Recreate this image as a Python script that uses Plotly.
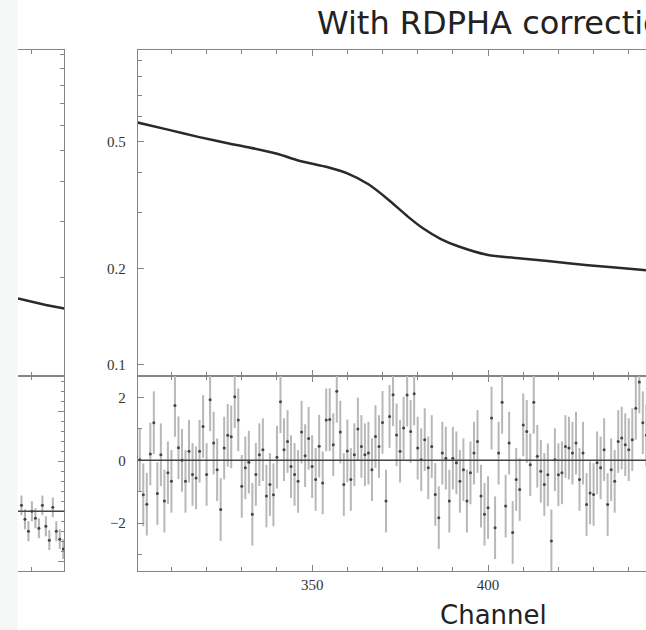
import plotly.graph_objects as go

W, H = 646, 630

# right panel: model curve knots (channel, counts)
model_ch = [300, 309, 317.6, 326, 331.8, 340.3, 346, 354.5, 360, 366, 371.6, 377.3,
            381.5, 386.6, 391.5, 400, 409.4, 417, 428.4, 442.6, 445]
model_val = [0.576, 0.546, 0.518, 0.495, 0.481, 0.458, 0.437, 0.416, 0.398, 0.368,
             0.330, 0.291, 0.2680, 0.2480, 0.2355, 0.2210, 0.2155, 0.2118, 0.2053,
             0.1991, 0.1981]

# right panel: residuals (sigma), one per channel 300..445
res_ch = list(range(300, 446))
res_val = [
    -1.97, 0.02, -1.10, -1.40, 0.20, 1.20, -1.06, 0.18, -1.30, -0.40,
    -0.67, 1.75, 0.40, 0.00, -0.67, 0.29, -0.45, -0.56, 0.29, 1.08,
    -0.45, 1.93, 0.55, -0.30, -1.57, 0.39, 0.80, 0.75, 2.03, 1.29,
    -0.83, -0.24, -0.06, -1.72, -0.45, 0.18, 0.34, -1.14, -0.77, -1.10,
    0.10, 1.87, 0.34, 0.60, -0.20, -0.45, -0.67, 0.90, 0.15, 0.70,
    -0.20, -0.61, 0.45, -0.72, 1.29, 1.30, 0.50, 2.20, 0.90, -0.77,
    0.30, -0.61, 0.18, 1.00, 0.44, 0.18, 0.23, -0.30, 0.76, 0.44,
    1.21, -1.30, 1.40, 2.09, 0.81, 0.29, 1.03, 2.08, 0.92, 2.12,
    0.39, 0.02, 0.66, -0.24, 0.44, -1.09, -1.83, 0.23, 0.07, -1.30,
    0.07, -0.08, -0.67, -0.30, -1.30, -0.40, 0.23, 0.60, -1.14, -1.72,
    -1.51, 1.35, -2.15, 0.23, 1.85, -1.46, 0.55, -2.30, -0.61, -0.93,
    1.13, 0.92, -0.14, 1.85, 0.13, -0.35, -0.77, -0.46, -2.57, 0.02,
    -0.46, -0.40, 0.44, 0.39, 0.23, 0.55, -0.61, 0.23, -1.41, -1.04,
    -1.09, -0.08, -0.24, 0.34, -1.41, -0.30, -0.67, 0.60, 0.71, 0.50,
    0.34, 0.66, 1.66, 2.50, 1.20, 0.80,
]
res_err = [1.0] * len(res_val)

# left (cut off) panel
left_ch = [436, 440, 444, 449.3]
left_val = [0.172, 0.168, 0.164, 0.160]
left_res_ch = [437, 438, 439, 440, 441, 442, 443, 444, 445, 446, 447, 448, 449]
left_res_val = [0.6, -0.8, -2.0, 0.0, -0.7, -1.7, 0.6, -1.5, -2.9, 0.4, -2.0, -2.8, -3.8]
left_res_err = [1.0] * len(left_res_val)


def px(x):
    return x / W


def py(y):
    return 1 - y / H


frame = "#858585"
lab_font = dict(family="Liberation Serif", size=15, color="#333")

fig = go.Figure()

fig.add_trace(go.Scatter(x=left_ch, y=left_val, mode="lines",
                         line=dict(color="#2a2a2a", width=2.5),
                         xaxis="x", yaxis="y", showlegend=False))
fig.add_trace(go.Scatter(x=left_res_ch, y=left_res_val, mode="markers",
                         marker=dict(size=3, color="#444"),
                         error_y=dict(type="data", array=left_res_err, color="#b5b5b5",
                                      thickness=2, width=0),
                         xaxis="x2", yaxis="y2", showlegend=False))
fig.add_trace(go.Scatter(x=model_ch, y=model_val, mode="lines",
                         line=dict(color="#2a2a2a", width=2.5, shape="spline", smoothing=0.6),
                         xaxis="x3", yaxis="y3", showlegend=False))
fig.add_trace(go.Scatter(x=res_ch, y=res_val, mode="markers",
                         marker=dict(size=3, color="#444"),
                         error_y=dict(type="data", array=res_err, color="#b8b8b8",
                                      thickness=2, width=0),
                         xaxis="x4", yaxis="y4", showlegend=False))

main_dom = [py(376), py(50)]
res_dom = [py(571), py(376)]
left_dom = [px(18), px(64.3)]
right_dom = [px(138), 1]

ax_common = dict(showline=True, linecolor=frame, linewidth=1.3, ticks="inside",
                 tickcolor=frame, tickwidth=1, showgrid=False, zeroline=False)

fig.update_layout(
    width=W, height=H, margin=dict(l=0, r=0, t=0, b=0),
    paper_bgcolor="white", plot_bgcolor="white",
    xaxis=dict(domain=left_dom, anchor="y", range=[436, 449.3], tickvals=[440],
               ticklen=4, showticklabels=False, mirror="ticks", **ax_common),
    yaxis=dict(domain=main_dom, anchor="x", type="log", range=[-1.0075, 0.0134],
               side="right", tickvals=[0.2, 0.3, 0.4, 0.5, 0.6, 0.7, 0.8, 0.9, 1.0],
               ticklen=4, showticklabels=False, **ax_common),
    xaxis2=dict(domain=left_dom, anchor="y2", range=[436, 449.3], tickvals=[440],
                ticklen=4, showticklabels=False, mirror="ticks", **ax_common),
    yaxis2=dict(domain=res_dom, anchor="x2", range=[-6, 13.6], side="right",
                tickvals=[-5, 0, 5, 10], ticklen=6, showticklabels=False,
                minor=dict(dtick=1, ticklen=3, ticks="inside", tickcolor=frame),
                **ax_common),
    xaxis3=dict(domain=right_dom, anchor="y3", range=[300.5, 444.9],
                tickvals=[350, 400], ticklen=6, showticklabels=False, mirror="ticks",
                minor=dict(dtick=10, tick0=300, ticklen=4, ticks="inside", tickcolor=frame),
                **ax_common),
    yaxis3=dict(domain=main_dom, anchor="x3", type="log", range=[-1.0345, -0.0135],
                tickvals=[0.1, 0.2, 0.5], ticktext=["0.1", "0.2", "0.5"], ticklen=6,
                tickfont=lab_font, ticklabelstandoff=8,
                minor=dict(tickvals=[0.3, 0.4, 0.6, 0.7, 0.8, 0.9], ticklen=4,
                           ticks="inside", tickcolor=frame),
                **ax_common),
    xaxis4=dict(domain=right_dom, anchor="y4", range=[300.5, 444.9],
                tickvals=[350, 400], ticklen=6, mirror="ticks", tickfont=lab_font,
                ticklabelstandoff=0,
                minor=dict(dtick=10, tick0=300, ticklen=4, ticks="inside", tickcolor=frame),
                **ax_common),
    yaxis4=dict(domain=res_dom, anchor="x4", range=[-3.53, 2.69],
                tickvals=[-2, 0, 2], ticktext=["\u22122", "0", "2"], ticklen=6,
                tickfont=lab_font, ticklabelstandoff=8,
                minor=dict(tickvals=[-3, -1, 1], ticklen=4, ticks="inside", tickcolor=frame),
                **ax_common),
    shapes=[
        dict(type="rect", xref="paper", yref="paper", x0=0, x1=px(17.5), y0=0, y1=1,
             fillcolor="#f5f6f6", line=dict(width=0), layer="below"),
        dict(type="line", xref="x4 domain", yref="y4", x0=0, x1=1, y0=0, y1=0,
             line=dict(color="#444", width=1.5)),
        dict(type="line", xref="x2 domain", yref="y2", x0=0, x1=1, y0=0, y1=0,
             line=dict(color="#444", width=1.5)),
    ],
    annotations=[
        dict(text="With RDPHA correction", xref="paper", yref="paper",
             x=px(315), y=py(23), xanchor="left", yanchor="middle", showarrow=False,
             font=dict(family="DejaVu Sans", size=32, color="#222")),
        dict(text="Channel", xref="paper", yref="paper",
             x=px(493.5), y=py(614.5), xanchor="center", yanchor="middle", showarrow=False,
             font=dict(family="DejaVu Sans", size=26, color="#222")),
    ],
)

fig.write_html("out.html", config={"displayModeBar": False},
               post_script="document.body.style.margin='0';")
